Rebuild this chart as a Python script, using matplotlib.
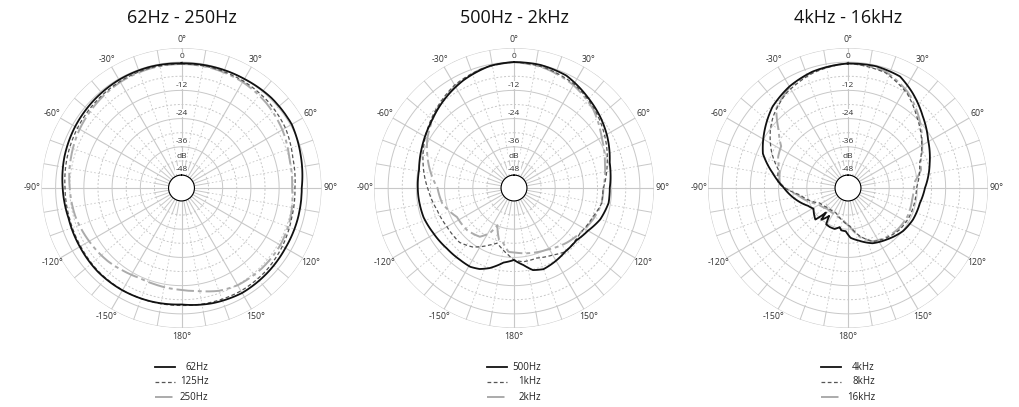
import numpy as np
import matplotlib

matplotlib.use("Agg")
import matplotlib.pyplot as plt
from matplotlib.lines import Line2D

plt.rcParams["font.family"] = ["Open Sans", "DejaVu Sans"]

W, H = 1019, 407
DB_BOTTOM, DB_TOP = -48, 6
R_ORIGIN = -53.5

TITLES = ["62Hz - 250Hz", "500Hz - 2kHz", "4kHz - 16kHz"]
LEGENDS = [["62Hz", "125Hz", "250Hz"], ["500Hz", "1kHz", "2kHz"], ["4kHz", "8kHz", "16kHz"]]
RING_LABELS = ["0", "-12", "-24", "-36", "-48"]
ANGLE_LABELS = [0, 30, 60, 90, 120, 150, 180, -150, -120, -90, -60, -30]

# ---- panel 1 : 62Hz / 125Hz / 250Hz (angle deg, level dB)
ANG_62 = [0, 15, 30, 45, 60, 75, 90, 105, 120, 135, 150, 165, 180,
          -165, -150, -135, -120, -105, -90, -75, -60, -45, -30, -15]
DB_62 = [-0.5, -0.3, 0, 0.6, 0.6, -1, -2.4, -2.4, -2.5, -2.2, -2, -2.8, -4,
         -3.6, -3.3, -3.2, -3.6, -3.8, -3, -2, -1.3, -0.8, -0.4, -0.3]
ANG_125 = ANG_62
DB_125 = [-0.8, -0.8, -1, -1.5, -2.5, -4.5, -5.3, -5, -4, -3.2, -3, -3.3, -3.6,
          -3.5, -3.4, -3.5, -4, -4.2, -4, -3.2, -2.5, -1.8, -1.2, -0.8]
ANG_250 = [0, 15, 30, 45, 60, 75, 90, 105, 120, 135, 150, 160, 170, 180,
           -165, -155, -145, -135, -120, -105, -90, -75, -60, -45, -30, -15]
DB_250 = [-0.8, -1, -1.5, -2.5, -4, -6, -6.5, -5.5, -5, -5.2, -5.8, -7, -9, -10.2,
          -11, -11.3, -10.5, -9.4, -8.2, -6.8, -6, -4.8, -3.5, -2.5, -1.5, -1]

# ---- panel 2 : 500Hz / 1kHz / 2kHz
ANG_500 = [0, 12, 25, 39, 50, 61, 75, 90, 99, 110, 120, 130, 141, 151, 160, 167, 173, 180,
           -172, -163, -157, -151, -143, -132, -119, -108, -95, -79, -66, -52, -38, -25, -11]
DB_500 = [0, 0, -0.8, -3.8, -5.9, -8.2, -11.4, -12.8, -12.8, -14.5, -17.2, -18.9, -18.8,
          -17.7, -16.8, -17.7, -20.5, -22.9, -21.5, -17.9, -16.1, -15.2, -15.3, -15.1,
          -14.2, -13.1, -12.7, -12.4, -10.7, -8.6, -5.6, -2.9, -0.6]
ANG_1K = [0, 15, 30, 45, 60, 75, 91, 100, 110, 124, 141, 150, 162, 173, 180,
          -175, -167, -163, -157, -145, -135, -120, -106, -91, -75, -60, -45, -30, -15]
DB_1K = [0, -0.8, -2.5, -5.5, -9, -12.5, -15.7, -15.7, -17.8, -19.5, -18.7, -20.6, -22.2,
         -21.9, -22.9, -25, -27.8, -29, -27.2, -22.9, -20.8, -20.6, -19.5, -17, -13.5,
         -10, -6.5, -3, -1]
ANG_2K = [0, 15, 30, 45, 60, 75, 90, 100, 112, 124, 136, 152, 166, 177,
          -175, -169, -164, -156, -152, -145, -132, -117, -102, -90, -75, -60, -45, -30, -15]
DB_2K = [0, -1, -3, -6, -10.5, -13.5, -15.5, -15.7, -17.4, -19.5, -21.2, -23.8, -25, -25.9,
         -26.3, -29.7, -30.5, -36.2, -31.9, -28.2, -26.7, -26.3, -22.3, -21, -16, -11,
         -7, -3.5, -1]

# ---- panel 3 : 4kHz / 8kHz / 16kHz
ANG_4K = [0, 13, 25, 34, 46, 59, 73, 90, 102, 116, 128, 143, 156, 168, 177,
          -177, -171, -168, -162, -155, -149, -146, -140, -138, -134, -121, -114, -103,
          -89, -79, -68, -55, -43, -30, -17]
DB_4K = [-0.6, -0.4, -1.2, -4.6, -9.4, -13.8, -17.2, -20.8, -22.3, -22.8, -23.8, -26.1,
         -27.8, -30.6, -32.3, -35.1, -35.3, -36.5, -35.2, -35.2, -35.5, -39.2, -35.9,
         -39.5, -34.2, -36.4, -34.9, -31, -25.9, -21, -14.5, -10.3, -6.4, -3.7, -1.8]
ANG_8K = [0, 18, 32, 44, 57, 71, 90, 115, 129, 142, 155, 166, 177, -170, -155, -135,
          -118, -98, -86, -75, -65, -53, -46, -33, -17]
DB_8K = [-0.5, -2, -6.1, -11.4, -16.2, -21.3, -24.4, -24.7, -25.3, -26.7, -28.4, -32.4,
         -37.2, -39.5, -41.7, -41.6, -39.9, -32.8, -23.7, -22.8, -17.7, -12.2, -9.4,
         -5.4, -2.4]
ANG_16K = [0, 18, 32, 44, 57, 71, 76, 84, 90, 100, 115, 129, 142, 155, 166, 177,
           -170, -155, -135, -118, -98, -86, -76, -66, -58, -50, -42, -30, -17]
DB_16K = [-0.5, -1.5, -5.5, -10.5, -16, -21, -21.5, -24.8, -25.5, -25.8, -25.5, -26, -27,
          -28.5, -32, -37, -40, -41, -41, -39, -32, -24.5, -23.5, -21, -20, -15, -8, -4, -2]

PANELS = [
    [(ANG_62, DB_62), (ANG_125, DB_125), (ANG_250, DB_250)],
    [(ANG_500, DB_500), (ANG_1K, DB_1K), (ANG_2K, DB_2K)],
    [(ANG_4K, DB_4K), (ANG_8K, DB_8K), (ANG_16K, DB_16K)],
]

CENTERS_X = [181.5, 514, 848]
CENTER_Y = 188
RADIUS = 140

GRID = "#c8c8c8"
STYLES = [
    dict(color="#111111", lw=1.3, ls="-"),
    dict(color="#555555", lw=0.9, ls=(0, (3, 2))),
    dict(color="#ababab", lw=1.4, ls=(0, (9, 2, 2, 2))),
]


def draw_grid(ax):
    full = np.linspace(0, 2 * np.pi, 361)
    for db in range(-48, 7, 6):
        dashed = db in (-42, -30, -18, -6)
        ax.plot(full, np.full_like(full, db), color=GRID, lw=0.7,
                ls=(0, (2, 2)) if dashed else "-", zorder=1)
    for deg in range(0, 360, 10):
        th = np.deg2rad(deg)
        if deg % 30 == 0:
            ax.plot([th, th], [-48, 6], color=GRID, lw=0.8, zorder=1)
        else:
            ax.plot([th, th], [-42, 0], color=GRID, lw=0.6, ls=(0, (2, 2.5)), zorder=1)
            ax.plot([th, th], [0, 6], color=GRID, lw=0.7, zorder=1)
            ax.plot([th, th], [-48, -42], color=GRID, lw=0.7, zorder=1)


def setup_axes(cx):
    left = (cx - RADIUS) / W
    bottom = (H - CENTER_Y - RADIUS) / H
    ax = plt.gcf().add_axes([left, bottom, 2 * RADIUS / W, 2 * RADIUS / H],
                            projection="polar")
    ax.set_theta_zero_location("N")
    ax.set_theta_direction(-1)
    ax.set_rorigin(R_ORIGIN)
    ax.set_ylim(DB_BOTTOM, DB_TOP)
    ax.grid(False)
    ax.set_xticks([])
    ax.set_yticks([])
    ax.spines["polar"].set_visible(False)
    ax.patch.set_alpha(0)
    return ax


fig = plt.figure(figsize=(W / 100, H / 100), dpi=100)

for cx, title, names, curves in zip(CENTERS_X, TITLES, LEGENDS, PANELS):
    ax = setup_axes(cx)
    draw_grid(ax)

    for ang in ANGLE_LABELS:
        ax.text(np.deg2rad(ang), 9.8, f"{ang}°", ha="center", va="center",
                fontsize=6.3, color="#333333", clip_on=False)
    for lab in RING_LABELS:
        ax.text(0, float(lab) + 2.2, lab, ha="center", va="center", fontsize=6,
                color="#333333", zorder=3,
                bbox=dict(boxstyle="square,pad=0.05", fc="white", ec="none"))
    ax.text(0, -39.9, "dB", ha="center", va="center", fontsize=6, color="#333333",
            zorder=3, bbox=dict(boxstyle="square,pad=0.05", fc="white", ec="none"))

    for (ang, db), st in zip(curves[::-1], STYLES[::-1]):
        th = np.deg2rad(np.mod(ang, 360))
        th = np.append(th, th[0] + 2 * np.pi)
        r = np.append(db, db[0])
        (ln,) = ax.plot(th, r, color=st["color"], lw=st["lw"], ls=st["ls"], zorder=4)
        # let the polar transform bend each segment along r/theta
        ln.get_path()._interpolation_steps = 24

    fig.text(cx / W, 1 - 18 / H, title, ha="center", va="center", fontsize=13,
             color="#111111")

    for i, (name, st) in enumerate(zip(names, STYLES)):
        y = 1 - (367 + 15 * i) / H
        fig.add_artist(Line2D([(cx - 27) / W, (cx - 7) / W], [y, y],
                              color=st["color"], lw=st["lw"], ls=st["ls"]))
        fig.text((cx + 27) / W, y, name, ha="right", va="center", fontsize=7,
                 color="#222222")

fig.savefig("out.png", dpi=100)
